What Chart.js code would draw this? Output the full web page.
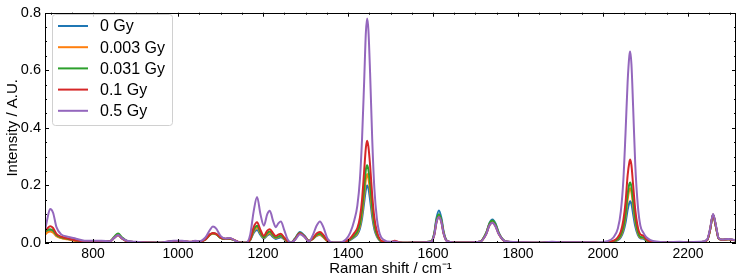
<!DOCTYPE html>
<html>
<head>
<meta charset="utf-8">
<script src="https://cdn.jsdelivr.net/npm/chart.js@4/dist/chart.umd.min.js"></script>
<style>
  html, body { margin: 0; padding: 0; background: #fff; }
  #wrap { width: 740px; height: 279px; }
</style>
</head>
<body>
<div id="wrap"><canvas id="ramanChart"></canvas></div>
<script>
// Raman shift (cm^-1) sample points
var shifts = [688, 692, 699, 706, 714, 725, 740, 760, 780, 800, 820, 840, 850, 859, 868, 880, 900, 930, 960, 990,
  1010, 1030, 1040, 1050, 1065, 1075, 1082, 1090, 1100, 1112, 1122, 1132, 1145, 1160, 1170, 1178, 1186, 1194, 1202, 1210,
  1216, 1224, 1230, 1236, 1242, 1250, 1258, 1266, 1275, 1287, 1298, 1308, 1318, 1326, 1334, 1342, 1352, 1365, 1380, 1395,
  1405, 1415, 1422, 1428, 1433, 1438, 1442, 1445, 1448, 1452, 1457, 1462, 1468, 1475, 1485, 1500, 1510, 1520, 1540, 1570,
  1595, 1603, 1608, 1614, 1620, 1625, 1633, 1650, 1680, 1710, 1725, 1733, 1740, 1747, 1755, 1770, 1800, 1850, 1880, 1900,
  1950, 1990, 2010, 2025, 2035, 2042, 2048, 2053, 2058, 2062, 2064, 2067, 2071, 2076, 2082, 2088, 2095, 2102, 2112, 2125,
  2150, 2180, 2200, 2230, 2245, 2252, 2259, 2266, 2272, 2280, 2295, 2313];

var gy0 = [.035, .040, .042, .038, .025, .018, .014, .008, .004, .005, .006, .006, .018, .028, .016, .006, .003, .002, .001, .006,
  .006, .003, .006, .004, .012, .028, .033, .030, .018, .014, .015, .010, .002, .001, .010, .035, .045, .028, .015, .026,
  .030, .020, .014, .017, .020, .012, .004, .001, .015, .038, .025, .008, .015, .025, .028, .020, .006, .001, .001, .004,
  .010, .020, .030, .050, .085, .140, .185, .200, .190, .150, .090, .048, .022, .008, .003, .002, .004, .002, .001, .002,
  .005, .035, .085, .113, .085, .040, .008, .002, .002, .004, .035, .070, .082, .068, .035, .006, .002, .001, .003, .002,
  .002, .001, .002, .005, .010, .020, .040, .070, .115, .140, .145, .135, .100, .058, .028, .016, .015, .008, .004, .003,
  .002, .003, .002, .003, .010, .045, .098, .055, .016, .011, .013, .009];

var gy0003 = [.030, .036, .040, .036, .024, .017, .013, .007, .004, .005, .006, .006, .018, .029, .017, .006, .003, .002, .001, .006,
  .006, .003, .006, .004, .012, .028, .032, .030, .018, .014, .015, .010, .002, .001, .011, .040, .054, .033, .018, .030,
  .035, .024, .017, .021, .024, .014, .005, .001, .013, .035, .022, .007, .015, .026, .029, .020, .006, .001, .001, .004,
  .012, .023, .035, .058, .100, .165, .220, .240, .225, .180, .110, .058, .026, .009, .003, .002, .004, .002, .001, .002,
  .005, .030, .075, .095, .075, .035, .007, .002, .002, .004, .033, .066, .076, .063, .032, .006, .002, .001, .003, .002,
  .002, .001, .002, .006, .012, .025, .050, .090, .150, .185, .190, .175, .130, .075, .035, .019, .018, .009, .004, .003,
  .002, .003, .002, .003, .010, .045, .098, .055, .016, .011, .013, .009];

var gy0031 = [.040, .045, .048, .043, .028, .020, .015, .009, .005, .006, .007, .007, .022, .033, .020, .007, .003, .002, .001, .006,
  .006, .003, .006, .004, .013, .029, .034, .031, .018, .014, .015, .010, .002, .001, .012, .045, .060, .037, .020, .035,
  .040, .027, .019, .023, .026, .016, .005, .001, .014, .036, .023, .007, .016, .028, .032, .023, .007, .001, .001, .005,
  .013, .026, .040, .066, .115, .190, .255, .270, .255, .205, .125, .066, .030, .010, .003, .002, .004, .002, .001, .002,
  .005, .032, .078, .100, .078, .036, .007, .002, .002, .004, .034, .068, .078, .065, .033, .006, .002, .001, .003, .002,
  .002, .001, .002, .006, .014, .028, .056, .100, .170, .205, .210, .195, .145, .085, .040, .021, .020, .010, .004, .003,
  .002, .003, .002, .003, .010, .045, .098, .055, .016, .011, .013, .009];

var gy01 = [.045, .050, .058, .052, .032, .022, .016, .009, .005, .006, .006, .006, .018, .027, .016, .006, .003, .002, .001, .007,
  .007, .004, .007, .005, .013, .030, .035, .032, .019, .015, .016, .011, .002, .001, .014, .055, .072, .045, .025, .043,
  .048, .033, .024, .029, .032, .019, .006, .001, .012, .034, .022, .007, .018, .033, .038, .028, .008, .001, .001, .006,
  .016, .035, .052, .088, .150, .250, .330, .355, .335, .270, .165, .088, .040, .013, .004, .003, .008, .003, .001, .002,
  .004, .028, .070, .090, .070, .032, .006, .002, .002, .004, .030, .062, .070, .058, .030, .005, .002, .001, .003, .002,
  .002, .001, .003, .008, .020, .040, .080, .140, .235, .280, .290, .270, .200, .115, .055, .030, .026, .013, .005, .003,
  .002, .003, .002, .003, .010, .046, .099, .056, .016, .011, .013, .009];

var gy05 = [.050, .080, .118, .105, .055, .030, .022, .015, .008, .008, .008, .006, .018, .028, .017, .008, .004, .002, .002, .008,
  .008, .004, .008, .006, .020, .045, .057, .050, .025, .016, .017, .010, .002, .001, .030, .110, .160, .100, .060, .100,
  .112, .075, .055, .068, .075, .045, .012, .002, .010, .030, .020, .005, .030, .060, .075, .055, .015, .002, .002, .012,
  .035, .080, .130, .220, .360, .560, .730, .780, .740, .590, .360, .190, .085, .030, .010, .004, .005, .002, .001, .002,
  .004, .028, .070, .090, .070, .032, .006, .002, .002, .004, .030, .062, .070, .058, .030, .006, .003, .002, .004, .003,
  .003, .002, .006, .020, .050, .110, .220, .380, .560, .650, .665, .620, .470, .270, .130, .060, .036, .020, .010, .005,
  .003, .004, .003, .004, .012, .050, .101, .060, .017, .012, .014, .010];

var seriesLabels = ["0 Gy", "0.003 Gy", "0.031 Gy", "0.1 Gy", "0.5 Gy"];
var seriesColors = ["#1f77b4", "#ff7f0e", "#2ca02c", "#d62728", "#9467bd"];
var seriesValues = [gy0, gy0003, gy0031, gy01, gy05];

var xTicks = [800, 1000, 1200, 1400, 1600, 1800, 2000, 2200];
var xMinorTicks = [700, 750, 800, 850, 900, 950, 1000, 1050, 1100, 1150, 1200, 1250, 1300, 1350, 1400, 1450, 1500,
  1550, 1600, 1650, 1700, 1750, 1800, 1850, 1900, 1950, 2000, 2050, 2100, 2150, 2200, 2250, 2300];
var yTicks = [0, 0.2, 0.4, 0.6, 0.8];
var yMinorTicks = [0, 0.05, 0.1, 0.15, 0.2, 0.25, 0.3, 0.35, 0.4, 0.45, 0.5, 0.55, 0.6, 0.65, 0.7, 0.75, 0.8];

var FONT = "'Liberation Sans', Arial, sans-serif";

// frame with inward ticks on all four sides, plus an in-plot legend box
var framePlugin = {
  id: "frame",
  afterDatasetsDraw: function (chart) {
    var c = chart.ctx, a = chart.chartArea;
    var xs = chart.scales.x, ys = chart.scales.y;
    c.save();
    c.strokeStyle = "#000";
    c.lineWidth = 1;
    c.beginPath();
    function tick(x1, y1, x2, y2) { c.moveTo(x1, y1); c.lineTo(x2, y2); }
    xMinorTicks.forEach(function (v) {
      var px = Math.round(xs.getPixelForValue(v)) + 0.5;
      var len = xTicks.indexOf(v) >= 0 ? 4 : 2;
      tick(px, a.bottom, px, a.bottom - len);
      tick(px, a.top, px, a.top + len);
    });
    yMinorTicks.forEach(function (v) {
      var py = Math.round(ys.getPixelForValue(v)) + 0.5;
      var major = yTicks.some(function (t) { return Math.abs(t - v) < 1e-9; });
      var len = major ? 4 : 2;
      tick(a.left, py, a.left + len, py);
      tick(a.right, py, a.right - len, py);
    });
    c.stroke();
    c.strokeRect(Math.round(a.left) + 0.5, Math.round(a.top) + 0.5,
      Math.round(a.right - a.left) - 1, Math.round(a.bottom - a.top) - 1);

    // legend
    var bx = 52.5, by = 14.5, bw = 120, bh = 111, r = 3;
    c.beginPath();
    c.moveTo(bx + r, by);
    c.arcTo(bx + bw, by, bx + bw, by + bh, r);
    c.arcTo(bx + bw, by + bh, bx, by + bh, r);
    c.arcTo(bx, by + bh, bx, by, r);
    c.arcTo(bx, by, bx + bw, by, r);
    c.closePath();
    c.fillStyle = "rgba(255,255,255,0.8)";
    c.fill();
    c.strokeStyle = "#d0d0d0";
    c.stroke();
    c.font = "16px " + FONT;
    c.textBaseline = "middle";
    c.textAlign = "left";
    chart.data.datasets.forEach(function (ds, i) {
      var yy = 26 + i * 21.2;
      c.strokeStyle = ds.borderColor;
      c.lineWidth = 2;
      c.beginPath();
      c.moveTo(58, yy);
      c.lineTo(88, yy);
      c.stroke();
      c.fillStyle = "#000";
      c.fillText(ds.label, 100, yy + 1);
    });
    c.restore();
  }
};

new Chart(document.getElementById("ramanChart"), {
  type: "line",
  data: {
    datasets: seriesLabels.map(function (name, i) {
      return {
        label: name,
        data: shifts.map(function (x, j) { return { x: x, y: seriesValues[i][j] }; }),
        borderColor: seriesColors[i],
        borderWidth: 2,
        pointRadius: 0,
        cubicInterpolationMode: "monotone",
        fill: false,
        order: 5 - i,
      };
    }),
  },
  options: {
    responsive: true,
    maintainAspectRatio: false,
    animation: false,
    events: [],
    layout: { padding: { top: 6, right: 4, left: 0, bottom: 0 } },
    plugins: { legend: { display: false }, tooltip: { enabled: false } },
    scales: {
      x: {
        type: "linear",
        min: 687,
        max: 2313,
        grid: { display: false, drawTicks: false },
        border: { display: false },
        afterBuildTicks: function (s) { s.ticks = xTicks.map(function (v) { return { value: v }; }); },
        afterFit: function (s) { s.height = 36; },
        ticks: {
          color: "#000",
          padding: 3,
          maxRotation: 0,
          font: { family: FONT, size: 14 },
          callback: function (v) { return String(v); },
        },
        title: {
          display: true,
          text: "Raman shift / cm\u207B\u00B9",
          color: "#000",
          padding: { top: 0, bottom: 1 },
          font: { family: FONT, size: 15 },
        },
      },
      y: {
        min: 0,
        max: 0.8,
        grid: { display: false, drawTicks: false },
        border: { display: false },
        afterBuildTicks: function (s) { s.ticks = yTicks.map(function (v) { return { value: v }; }); },
        afterFit: function (s) { s.width = 45; },
        ticks: {
          color: "#000",
          padding: 4,
          font: { family: FONT, size: 14.5 },
          callback: function (v) { return v.toFixed(1); },
        },
        title: {
          display: true,
          text: "Intensity / A.U.",
          color: "#000",
          padding: { top: 4, bottom: 0 },
          font: { family: FONT, size: 15 },
        },
      },
    },
  },
  plugins: [framePlugin],
});
</script>
</body>
</html>
